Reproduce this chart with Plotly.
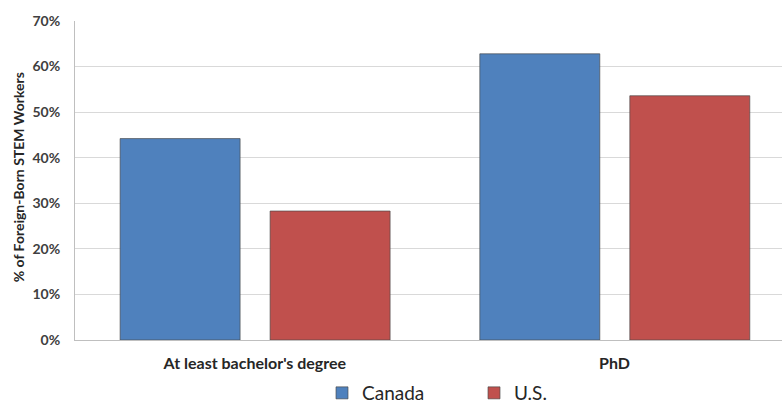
import plotly.graph_objects as go

categories = ["At least bachelor's degree", "PhD"]
canada = [44.2, 62.8]
us = [28.3, 53.6]
y_ticks = [0, 10, 20, 30, 40, 50, 60, 70]
y_tick_labels = [f"{v}%" for v in y_ticks]

FONT = "Lato, 'Open Sans', sans-serif"
W, H = 782, 406
L, R, T, B = 75, 0, 21, 66

fig = go.Figure()
fig.add_trace(go.Bar(
    x=categories, y=canada, name="Canada",
    marker=dict(color="#4F81BD", line=dict(color="rgba(70,70,70,0.65)", width=1)),
    width=0.3336, offset=-0.3746,
))
fig.add_trace(go.Bar(
    x=categories, y=us, name="U.S.",
    marker=dict(color="#C0504D", line=dict(color="rgba(70,70,70,0.65)", width=1)),
    width=0.3336, offset=0.0424,
))

fig.update_layout(
    width=W, height=H,
    margin=dict(l=L, r=R, t=T, b=B, autoexpand=False),
    paper_bgcolor="white", plot_bgcolor="white",
    barmode="group",
    font=dict(family=FONT, color="#262626"),
    showlegend=True,
    legend=dict(
        orientation="h",
        xref="container", x=322 / W, xanchor="left",
        yref="container", y=1 - 393 / H, yanchor="middle",
        font=dict(size=19, color="#262626", family=FONT),
        itemwidth=30, entrywidth=107, entrywidthmode="pixels",
        bgcolor="rgba(0,0,0,0)",
    ),
    xaxis=dict(
        type="category", range=[-0.5, 1.4655],
        showgrid=False, showline=True, linecolor="#bfbfbf", linewidth=1,
        ticks="", ticklabelstandoff=9,
        tickfont=dict(size=16, family=FONT, color="#262626", weight="bold"),
        fixedrange=True,
    ),
    yaxis=dict(
        range=[0, 70], tickvals=y_ticks, ticktext=y_tick_labels,
        showgrid=True, gridcolor="#d9d9d9", gridwidth=1,
        showline=True, linecolor="#bfbfbf", linewidth=1,
        zeroline=False, ticks="", ticklabelstandoff=11,
        tickfont=dict(size=14, family=FONT, color="#404040", weight="bold"),
        fixedrange=True,
    ),
    annotations=[dict(
        text="% of Foreign-Born STEM Workers",
        xref="paper", yref="paper", x=(18 - L) / (W - L - R), y=0.51,
        xanchor="center", yanchor="middle", textangle=-90, showarrow=False,
        font=dict(size=14, family=FONT, color="#262626", weight="bold"),
    )],
)

fig.write_html("out.html")
